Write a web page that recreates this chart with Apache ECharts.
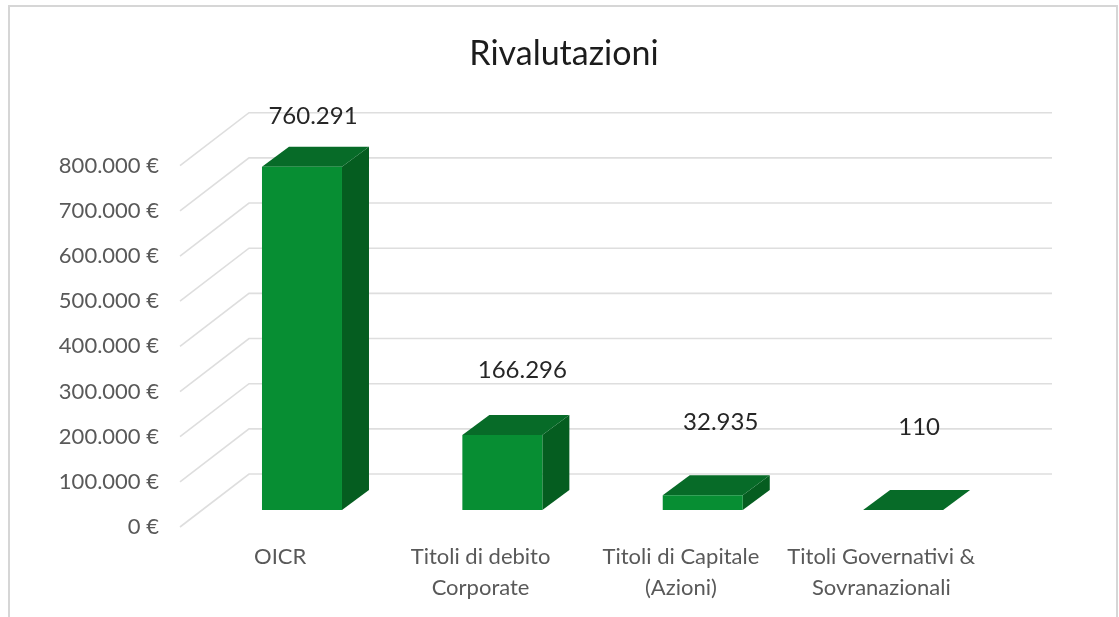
<!DOCTYPE html>
<html>
<head>
<meta charset="utf-8">
<title>Rivalutazioni</title>
<script src="https://cdn.jsdelivr.net/npm/echarts@6/dist/echarts.min.js"></script>
<style>
html, body { margin: 0; padding: 0; background: #fff; }
#main { width: 1119px; height: 617px; }
</style>
</head>
<body>
<div id="main"></div>
<script>
var categories = ['OICR', 'Titoli di debito\nCorporate', 'Titoli di Capitale\n(Azioni)', 'Titoli Governativi &\nSovranazionali']
var values = [760291, 166296, 32935, 110]
var yTicks = [0, 100000, 200000, 300000, 400000, 500000, 600000, 700000, 800000]

// where Excel left the data labels, relative to the bar's front top centre
var labelDx = [11, 20, 18, 16]
var labelDy = [-50, -65, -73, -83]

var FONT = 'Lato, "Open Sans", sans-serif'
var WALL_DX = 69
var WALL_DY = -53
var WALL_OVERHANG = 1.5
var BAR_WIDTH = 80
var BAR_SHIFT_X = 21.8
var BAR_SHIFT_Y = -17
var BAR_DX = 27
var BAR_DY = -20

function itNumber (v) {
  return String(v).replace(/\B(?=(\d{3})+(?!\d))/g, '.')
}

function renderWall (params, api) {
  var p = api.coord([0, api.value(1)])
  var x0 = params.coordSys.x
  var x1 = x0 + params.coordSys.width
  return {
    type: 'polyline',
    shape: {
      points: [
        [x0, p[1]],
        [x0 + WALL_DX, p[1] + WALL_DY],
        [x1 + WALL_DX + WALL_OVERHANG, p[1] + WALL_DY]
      ]
    },
    style: { fill: null, stroke: '#dedede', lineWidth: 1.6 }
  }
}

function renderBar (params, api) {
  var i = api.value(0)
  var base = api.coord([i, 0])
  var top = api.coord([i, api.value(1)])
  var l = base[0] + BAR_SHIFT_X - BAR_WIDTH / 2
  var r = l + BAR_WIDTH
  var b = base[1] + BAR_SHIFT_Y
  var t = top[1] + BAR_SHIFT_Y
  return {
    type: 'group',
    children: [
      {
        type: 'polygon',
        shape: { points: [[r, t], [r + BAR_DX, t + BAR_DY], [r + BAR_DX, b + BAR_DY], [r, b]] },
        style: { fill: '#055d20' }
      },
      {
        type: 'polygon',
        shape: { points: [[l, t], [l + BAR_DX, t + BAR_DY], [r + BAR_DX, t + BAR_DY], [r, t]] },
        style: { fill: '#076b28' }
      },
      {
        type: 'rect',
        shape: { x: l, y: t, width: BAR_WIDTH, height: b - t },
        style: { fill: '#078e33' }
      },
      {
        type: 'text',
        style: {
          x: (l + r) / 2 + labelDx[i],
          y: t + labelDy[i],
          text: itNumber(api.value(1)),
          fill: '#262626',
          font: '24px ' + FONT,
          textAlign: 'center',
          textVerticalAlign: 'middle'
        }
      }
    ]
  }
}

var chart = echarts.init(document.getElementById('main'))
chart.setOption({
  animation: false,
  backgroundColor: '#ffffff',
  title: {
    text: 'Rivalutazioni',
    left: 559,
    top: 32,
    textAlign: 'center',
    textStyle: { color: '#1c1c1c', fontSize: 34, fontWeight: 'normal', fontFamily: FONT }
  },
  graphic: [{
    type: 'polyline',
    shape: { points: [[9, 617], [9, 6], [1117, 6], [1117, 617]] },
    style: { fill: null, stroke: '#d6d6d6', lineWidth: 2 }
  }],
  grid: { left: 180, right: 137.5, top: 165.7, bottom: 90 },
  xAxis: {
    type: 'category',
    data: categories,
    axisLine: { show: false },
    axisTick: { show: false },
    axisLabel: {
      color: '#595959',
      fontSize: 22,
      fontFamily: FONT,
      lineHeight: 31,
      margin: 14,
      interval: 0
    }
  },
  yAxis: {
    type: 'value',
    min: 0,
    max: 800000,
    interval: 100000,
    splitLine: { show: false },
    axisLine: { show: false },
    axisTick: { show: false },
    axisLabel: {
      color: '#595959',
      fontSize: 22,
      fontFamily: FONT,
      margin: 21,
      formatter: function (v) { return itNumber(v) + ' €' }
    }
  },
  series: [
    {
      type: 'custom',
      silent: true,
      clip: false,
      z: 1,
      renderItem: renderWall,
      data: yTicks.map(function (v) { return [0, v] })
    },
    {
      type: 'custom',
      clip: false,
      z: 2,
      renderItem: renderBar,
      data: values.map(function (v, i) { return [i, v] })
    }
  ]
})
</script>
</body>
</html>
